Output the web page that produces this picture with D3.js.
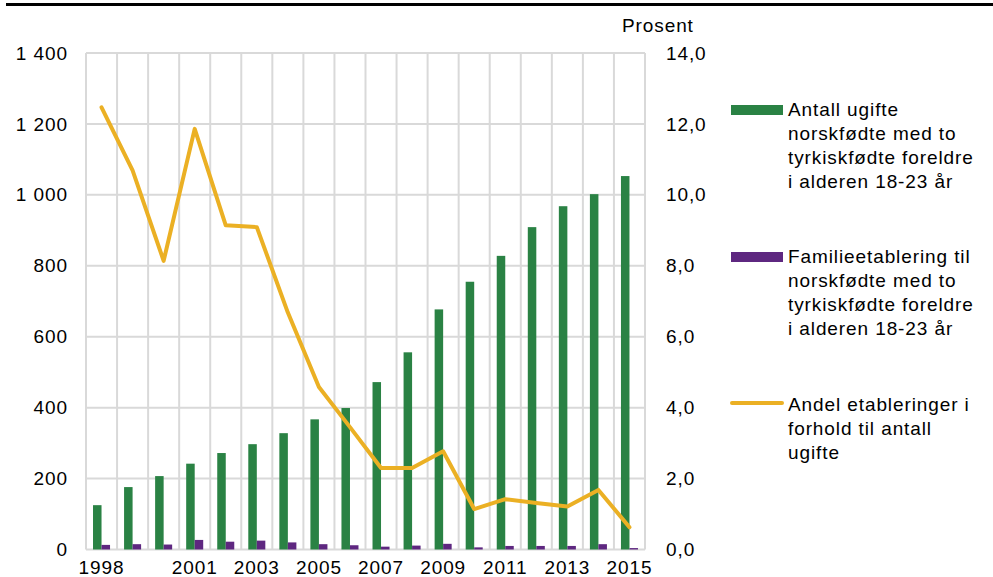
<!DOCTYPE html>
<html lang="no">
<head>
  <meta charset="UTF-8">
  <title>Ugifte norskfødte og familieetablering</title>
  <script src="https://d3js.org/d3.v7.min.js"></script>
  <style>
    body { margin: 0; background: #fff; }
    text {
      font-family: "Liberation Sans", Arial, sans-serif;
      font-size: 19px;
      letter-spacing: 0.9px;
      fill: #000;
    }
    .grid line { stroke: #d9d9d9; stroke-width: 2; }
  </style>
</head>
<body>
  <svg id="chart" width="993" height="577"></svg>
  <script>
    const years = d3.range(1998, 2016);
    const labelYears = [1998, 2001, 2003, 2005, 2007, 2009, 2011, 2013, 2015];
    // antall ugifte norskfødte med to tyrkiskfødte foreldre, 18-23 år
    const ugifte = [125, 176, 207, 242, 272, 297, 328, 367, 399, 472, 556, 677, 755, 828, 909, 968, 1002, 1053];
    // familieetableringer
    const etableringer = [13, 15, 14, 27, 22, 25, 20, 15, 12, 8, 11, 16, 6, 10, 10, 10, 15, 4];
    // andel etableringer i prosent
    const andel = [12.47, 10.69, 8.14, 11.86, 9.14, 9.09, 6.68, 4.58, 3.45, 2.3, 2.3, 2.77, 1.14, 1.42, 1.31, 1.21, 1.68, 0.63];
    const leftTicks = [0, 200, 400, 600, 800, 1000, 1200, 1400];
    const rightTicks = [0, 2, 4, 6, 8, 10, 12, 14];

    const legendItems = [
      { type: 'bar', color: '#2a8244', lines: ['Antall ugifte', 'norskfødte med to', 'tyrkiskfødte foreldre', 'i alderen 18-23 år'], y: 116 },
      { type: 'bar', color: '#5e2780', lines: ['Familieetablering til', 'norskfødte med to', 'tyrkiskfødte foreldre', 'i alderen 18-23 år'], y: 263 },
      { type: 'line', color: '#ebb024', lines: ['Andel etableringer i', 'forhold til antall', 'ugifte'], y: 411 }
    ];

    const GREEN = '#2a8244';
    const PURPLE = '#5e2780';
    const YELLOW = '#ebb024';

    const plotLeft = 86, plotRight = 645, plotTop = 53, plotBottom = 549.5;

    const no = d3.formatLocale({ decimal: ',', thousands: '\u00a0', grouping: [3], currency: ['', ''] });

    const svg = d3.select('#chart');

    // black rule along the top
    svg.append('rect')
      .attr('x', 6).attr('y', 3)
      .attr('width', 993 - 6).attr('height', 3)
      .attr('fill', '#000');

    const x = d3.scaleBand().domain(years).range([plotLeft, plotRight]);
    const sub = d3.scaleBand().domain(['ugifte', 'etabl']).range([0, x.bandwidth()]).paddingOuter(0.824);
    const yL = d3.scaleLinear().domain([0, 1400]).range([plotBottom, plotTop]);
    const yR = d3.scaleLinear().domain([0, 14]).range([plotBottom, plotTop]);

    // grid
    const grid = svg.append('g').attr('class', 'grid');
    grid.selectAll('.h')
      .data(leftTicks)
      .enter().append('line')
      .attr('x1', plotLeft).attr('x2', plotRight)
      .attr('y1', d => yL(d)).attr('y2', d => yL(d));
    grid.selectAll('.v')
      .data(years.concat([null]))
      .enter().append('line')
      .attr('x1', (d, i) => plotLeft + i * x.step())
      .attr('x2', (d, i) => plotLeft + i * x.step())
      .attr('y1', plotTop).attr('y2', plotBottom);

    // bars
    svg.append('g').selectAll('rect')
      .data(years)
      .enter().append('rect')
      .attr('x', d => x(d) + sub('ugifte'))
      .attr('width', sub.bandwidth())
      .attr('y', (d, i) => yL(ugifte[i]))
      .attr('height', (d, i) => yL(0) - yL(ugifte[i]))
      .attr('fill', GREEN);

    svg.append('g').selectAll('rect')
      .data(years)
      .enter().append('rect')
      .attr('x', d => x(d) + sub('etabl'))
      .attr('width', sub.bandwidth())
      .attr('y', (d, i) => yL(etableringer[i]))
      .attr('height', (d, i) => yL(0) - yL(etableringer[i]))
      .attr('fill', PURPLE);

    // line
    const line = d3.line()
      .x((d, i) => x(years[i]) + x.bandwidth() / 2)
      .y(d => yR(d));
    svg.append('path')
      .datum(andel)
      .attr('d', line)
      .attr('fill', 'none')
      .attr('stroke', YELLOW)
      .attr('stroke-width', 4)
      .attr('stroke-linejoin', 'round')
      .attr('stroke-linecap', 'round');

    // axes
    const axL = svg.append('g')
      .attr('transform', `translate(${plotLeft},0)`)
      .call(d3.axisLeft(yL).tickValues(leftTicks).tickSize(0).tickPadding(19).tickFormat(no.format(',')));
    const axR = svg.append('g')
      .attr('transform', `translate(${plotRight},0)`)
      .call(d3.axisRight(yR).tickValues(rightTicks).tickSize(0).tickPadding(21).tickFormat(no.format('.1f')));
    const axB = svg.append('g')
      .attr('transform', `translate(0,${plotBottom})`)
      .call(d3.axisBottom(x).tickValues(labelYears).tickSize(0).tickPadding(11));

    [axL, axR, axB].forEach(a => {
      a.select('.domain').remove();
      a.selectAll('text').attr('font-family', null).attr('font-size', null).attr('fill', '#000');
    });
    axL.selectAll('text').attr('dx', '0.9px');

    svg.append('text')
      .attr('x', 622).attr('y', 32)
      .text('Prosent');

    // legend
    const lg = svg.append('g');
    legendItems.forEach(item => {
      if (item.type === 'bar') {
        lg.append('rect')
          .attr('x', 731).attr('y', item.y - 11)
          .attr('width', 52).attr('height', 10)
          .attr('fill', item.color);
      } else {
        lg.append('line')
          .attr('x1', 732).attr('x2', 782)
          .attr('y1', item.y - 8).attr('y2', item.y - 8)
          .attr('stroke', item.color)
          .attr('stroke-width', 4)
          .attr('stroke-linecap', 'round');
      }
      lg.append('text')
        .selectAll('tspan')
        .data(item.lines)
        .enter().append('tspan')
        .attr('x', 788)
        .attr('y', (d, i) => item.y + i * 24)
        .text(d => d);
    });
  </script>
</body>
</html>
